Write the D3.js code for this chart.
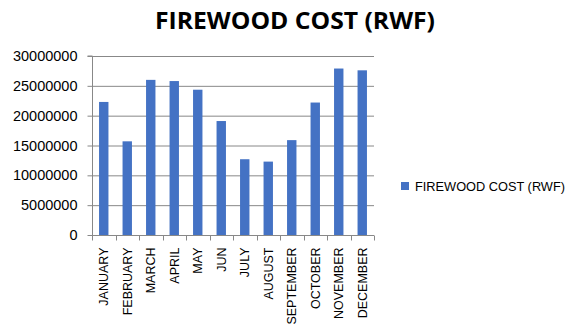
<!DOCTYPE html>
<html>
<head>
<meta charset="utf-8">
<script src="https://cdn.jsdelivr.net/npm/d3@7"></script>
<style>
  html, body { margin: 0; padding: 0; background: #fff; }
  svg { display: block; }
</style>
</head>
<body>
<svg id="chart" width="571" height="327"></svg>
<script>
// Monthly firewood cost in Rwandan francs
const months = ["JANUARY", "FEBRUARY", "MARCH", "APRIL", "MAY", "JUN", "JULY",
                "AUGUST", "SEPTEMBER", "OCTOBER", "NOVEMBER", "DECEMBER"];
const cost = [22300000, 15700000, 26000000, 25800000, 24350000, 19100000, 12700000,
              12300000, 15900000, 22200000, 27900000, 27600000];
const yTicks = [0, 5000000, 10000000, 15000000, 20000000, 25000000, 30000000];
const seriesName = "FIREWOOD COST (RWF)";
const chartTitle = "FIREWOOD COST (RWF)";

const svg = d3.select("#chart");
const plot = { left: 92, right: 374, top: 56, bottom: 235 };
const barColor = "#4472c4";
const font = "'Liberation Sans', Arial, sans-serif";

const x = d3.scaleBand().domain(months).range([plot.left, plot.right]).paddingInner(0.6).paddingOuter(0.3);
const y = d3.scaleLinear().domain([0, 30000000]).range([plot.bottom, plot.top]);

// Title
svg.append("text")
  .attr("x", 155).attr("y", 29)
  .attr("font-family", "'Open Sans', sans-serif")
  .attr("font-weight", "bold")
  .attr("font-size", 23)
  .attr("textLength", 280)
  .attr("lengthAdjust", "spacingAndGlyphs")
  .attr("fill", "#000")
  .text(chartTitle);

// Horizontal gridlines
svg.append("g")
  .selectAll("line")
  .data(yTicks.filter(d => d > 0))
  .join("line")
  .attr("x1", plot.left).attr("x2", plot.right)
  .attr("y1", d => y(d) + 0.5).attr("y2", d => y(d) + 0.5)
  .attr("stroke", "#888").attr("stroke-width", 1);

// Y axis
const yAxis = svg.append("g")
  .attr("transform", `translate(${plot.left + 0.5},0)`)
  .call(d3.axisLeft(y).tickValues(yTicks).tickFormat(d3.format("d")).tickSize(5).tickPadding(10));
yAxis.select(".domain").attr("stroke", "#888").attr("d", `M-5,${plot.top}H0V${plot.bottom}`);
yAxis.selectAll(".tick line").attr("stroke", "#888");
yAxis.selectAll(".tick text")
  .attr("font-family", font).attr("font-size", 14.5).attr("fill", "#000");

// Bars
svg.append("g")
  .selectAll("rect")
  .data(months.map((m, i) => ({ m, v: cost[i] })))
  .join("rect")
  .attr("x", d => x(d.m))
  .attr("width", x.bandwidth())
  .attr("y", d => y(d.v))
  .attr("height", d => y(0) - y(d.v))
  .attr("fill", barColor);

// X axis with ticks at category boundaries
const xg = svg.append("g").attr("transform", `translate(0,${plot.bottom + 0.5})`);
xg.append("line")
  .attr("x1", plot.left).attr("x2", plot.right)
  .attr("stroke", "#888");
const step = (plot.right - plot.left) / months.length;
xg.selectAll("line.tk")
  .data(d3.range(months.length + 1))
  .join("line")
  .attr("class", "tk")
  .attr("x1", i => Math.round(plot.left + i * step) + 0.5)
  .attr("x2", i => Math.round(plot.left + i * step) + 0.5)
  .attr("y1", 0).attr("y2", 5)
  .attr("stroke", "#888");
xg.selectAll("text")
  .data(months)
  .join("text")
  .attr("transform", d => `translate(${x(d) + x.bandwidth() / 2 + 4.5},12) rotate(-90)`)
  .attr("text-anchor", "end")
  .attr("font-family", font)
  .attr("font-size", 12.5)
  .attr("fill", "#000")
  .text(d => d);

// Legend
const lg = svg.append("g").attr("transform", "translate(401,182)");
lg.append("rect").attr("width", 8).attr("height", 8).attr("fill", barColor);
lg.append("text")
  .attr("x", 14).attr("y", 8.5)
  .attr("font-family", font)
  .attr("font-size", 13)
  .attr("textLength", 150)
  .attr("lengthAdjust", "spacingAndGlyphs")
  .attr("fill", "#000")
  .text(seriesName);
</script>
</body>
</html>
